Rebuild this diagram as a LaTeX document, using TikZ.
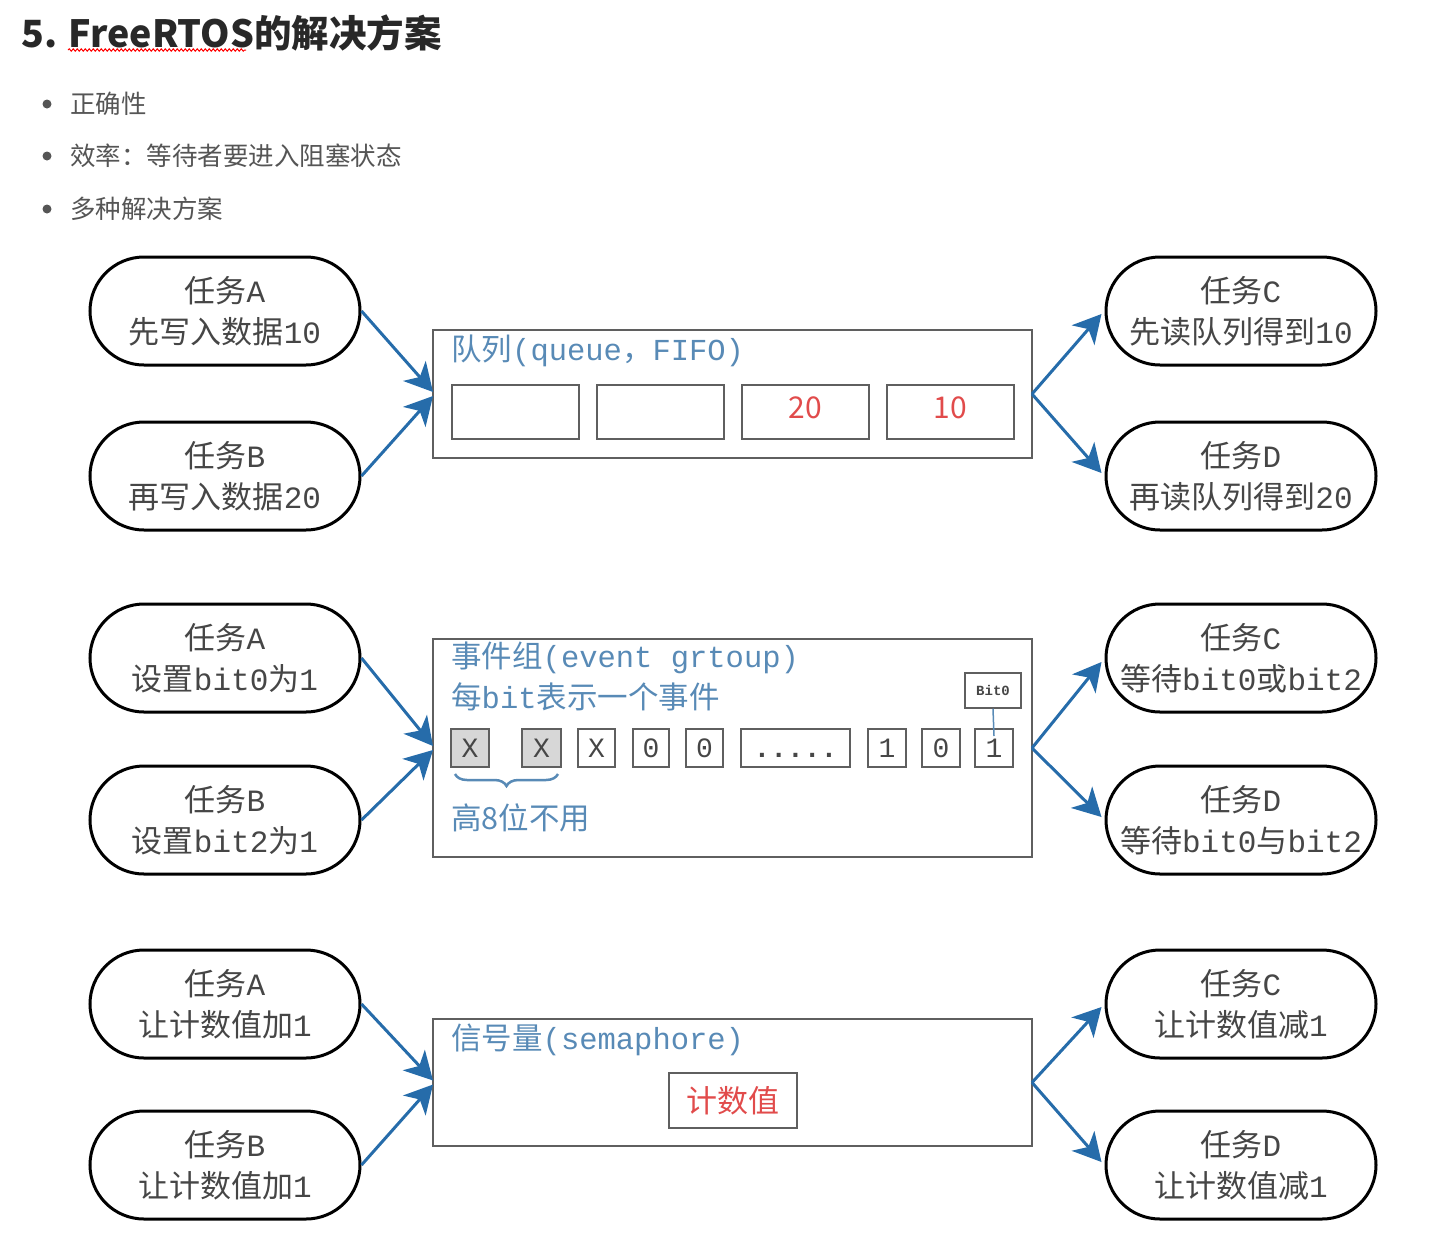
\documentclass[tikz,border=0pt]{standalone}
\usepackage{fontspec}
\setmainfont{Liberation Mono}
\newfontfamily\cjk{Noto Sans CJK SC}
\usetikzlibrary{arrows.meta,decorations.pathreplacing,decorations.pathmorphing}
\definecolor{txtgray}{RGB}{70,70,70}
\definecolor{bulgray}{RGB}{85,85,85}
\definecolor{boxgray}{RGB}{95,95,95}
\definecolor{lblue}{RGB}{88,138,182}
\definecolor{arrblue}{RGB}{38,108,170}
\definecolor{redtxt}{RGB}{225,75,75}
\definecolor{cellfill}{RGB}{215,215,215}
\newcommand\zh[1]{{\cjk #1}}
\begin{document}
\begin{tikzpicture}[x=1pt,y=-1pt,
  task/.style={draw=black, line width=3pt, rounded corners=54pt, minimum width=270pt, minimum height=108pt,
    align=center, inner sep=0pt, text=txtgray, font=\fontsize{31}{41}\selectfont},
  frame/.style={draw=boxgray, line width=2pt, minimum width=599pt, inner sep=0pt, outer sep=0pt},
  qcell/.style={draw=boxgray, line width=2pt, minimum width=127pt, minimum height=54pt, inner sep=0pt,
    text=redtxt, font=\cjk\fontsize{30}{32}\selectfont},
  numcell/.style={qcell, text height=22pt, text depth=10pt},
  bcell/.style={draw=boxgray, line width=2pt, minimum height=38pt, inner sep=0pt, text=txtgray,
    text height=19pt, text depth=0pt, font=\fontsize{28}{30}\selectfont},
  boxtitle/.style={anchor=west, inner sep=0pt, text=lblue, font=\fontsize{30.5}{34}\selectfont},
  bullet/.style={anchor=west, inner sep=0pt, text=bulgray, font=\cjk\fontsize{25.5}{28}\selectfont},
  arr/.style={draw=arrblue, line width=3pt, -{Stealth[length=28pt,width=30pt,inset=8pt]}}
]
\useasboundingbox (0,0) rectangle (1430,1243);

% title
\node[anchor=west, inner sep=0pt, text={rgb,255:red,40;green,40;blue,40}, font=\cjk\bfseries\fontsize{37.5}{40}\selectfont] (title) at (21,33) {5. FreeRTOS的解决方案};
\draw[red, line width=1pt, decorate, decoration={snake, amplitude=1.2pt, segment length=4pt}] (68,50) -- (246,50);

% bullets
\fill[bulgray] (47,104) circle (4.5pt);
\fill[bulgray] (47,156) circle (4.5pt);
\fill[bulgray] (47,209) circle (4.5pt);
\node[bullet] (b1) at (70,104) {正确性};
\node[bullet] (b2) at (70,156) {效率：等待者要进入阻塞状态};
\node[bullet] (b3) at (70,209) {多种解决方案};

% ===== row 1: queue =====
\node[task] (qa) at (225,311) {\zh{任务}A\\\zh{先写入数据}10};
\node[task] (qb) at (225,476) {\zh{任务}B\\\zh{再写入数据}20};
\node[task] (qc) at (1241,311) {\zh{任务}C\\\zh{先读队列得到}10};
\node[task] (qd) at (1241,476) {\zh{任务}D\\\zh{再读队列得到}20};

\node[frame, minimum height=128pt] (q) at (732.5,394) {};
\node[boxtitle] (qt) at (451,351) {\zh{队列}(queue\zh{，}FIFO)};
\node[qcell] (q1) at (515,412) {};
\node[qcell] (q2) at (660.5,412) {};
\node[numcell] (q3) at (805.5,412) {20};
\node[numcell] (q4) at (950.5,412) {10};

\draw[arr] (qa.east) -- ([yshift=2pt]q.west);
\draw[arr] (qb.east) -- ([yshift=-2pt]q.west);
\draw[arr] (q.east) -- ([xshift=-3pt,yshift=-3pt]qc.west);
\draw[arr] (q.east) -- ([xshift=-3pt,yshift=3pt]qd.west);

% ===== row 2: event group =====
\node[task] (ea) at (225,658) {\zh{任务}A\\\zh{设置}bit0\zh{为}1};
\node[task] (eb) at (225,820) {\zh{任务}B\\\zh{设置}bit2\zh{为}1};
\node[task] (ec) at (1241,658) {\zh{任务}C\\\zh{等待}bit0\zh{或}bit2};
\node[task] (ed) at (1241,820) {\zh{任务}D\\\zh{等待}bit0\zh{与}bit2};

\node[frame, minimum height=218pt] (e) at (732.5,748) {};
\node[boxtitle] (et1) at (451,658) {\zh{事件组}(event grtoup)};
\node[boxtitle] (et2) at (451,697) {\zh{每}bit\zh{表示一个事件}};

\node[bcell, fill=cellfill, minimum width=38pt] (c1) at (470,748) {X};
\node[bcell, fill=cellfill, minimum width=39pt] (c2) at (541.5,748) {X};
\node[bcell, minimum width=37pt] (c3) at (596.5,748) {X};
\node[bcell, minimum width=36pt] (c4) at (651,748) {0};
\node[bcell, minimum width=37pt] (c5) at (704.5,748) {0};
\node[bcell, minimum width=109pt] (c6) at (795.5,748) {\textbf{.....}};
\node[bcell, minimum width=38pt] (c7) at (887,748) {1};
\node[bcell, minimum width=38pt] (c8) at (941,748) {0};
\node[bcell, minimum width=38pt] (c9) at (994,748) {1};

\node[draw=boxgray, line width=1.5pt, minimum width=56pt, minimum height=35pt, inner sep=0pt,
  text=txtgray, font=\bfseries\fontsize{14}{16}\selectfont] (bit0) at (993,690.5) {Bit0};
\draw[lblue, line width=1.5pt] (bit0.south) -- ([yshift=-8pt]c9.north);

\draw[lblue, line width=2.5pt, decorate, decoration={brace, mirror, amplitude=12pt}] (455,774) -- (558,774);
\node[boxtitle, font=\cjk\fontsize{30.5}{34}\selectfont] (et3) at (451,818) {高8位不用};

\draw[arr] (ea.east) -- ([yshift=2pt]e.west);
\draw[arr] (eb.east) -- ([yshift=-2pt]e.west);
\draw[arr] (e.east) -- ([xshift=-3pt,yshift=-4pt]ec.west);
\draw[arr] (e.east) -- ([xshift=-3pt,yshift=3pt]ed.west);

% ===== row 3: semaphore =====
\node[task] (sa) at (225,1004) {\zh{任务}A\\\zh{让计数值加}1};
\node[task] (sb) at (225,1165) {\zh{任务}B\\\zh{让计数值加}1};
\node[task] (sc) at (1241,1004) {\zh{任务}C\\\zh{让计数值减}1};
\node[task] (sd) at (1241,1165) {\zh{任务}D\\\zh{让计数值减}1};

\node[frame, minimum height=127pt] (s) at (732.5,1082.5) {};
\node[boxtitle] (st) at (451,1040) {\zh{信号量}(semaphore)};
\node[qcell, minimum width=128pt, minimum height=55pt, font=\cjk\fontsize{31}{34}\selectfont] (cnt) at (733,1100.5) {计数值};

\draw[arr] (sa.east) -- ([yshift=2pt]s.west);
\draw[arr] (sb.east) -- ([yshift=-2pt]s.west);
\draw[arr] (s.east) -- ([xshift=-3pt,yshift=-3pt]sc.west);
\draw[arr] (s.east) -- ([xshift=-3pt,yshift=3pt]sd.west);
\end{tikzpicture}
\end{document}
